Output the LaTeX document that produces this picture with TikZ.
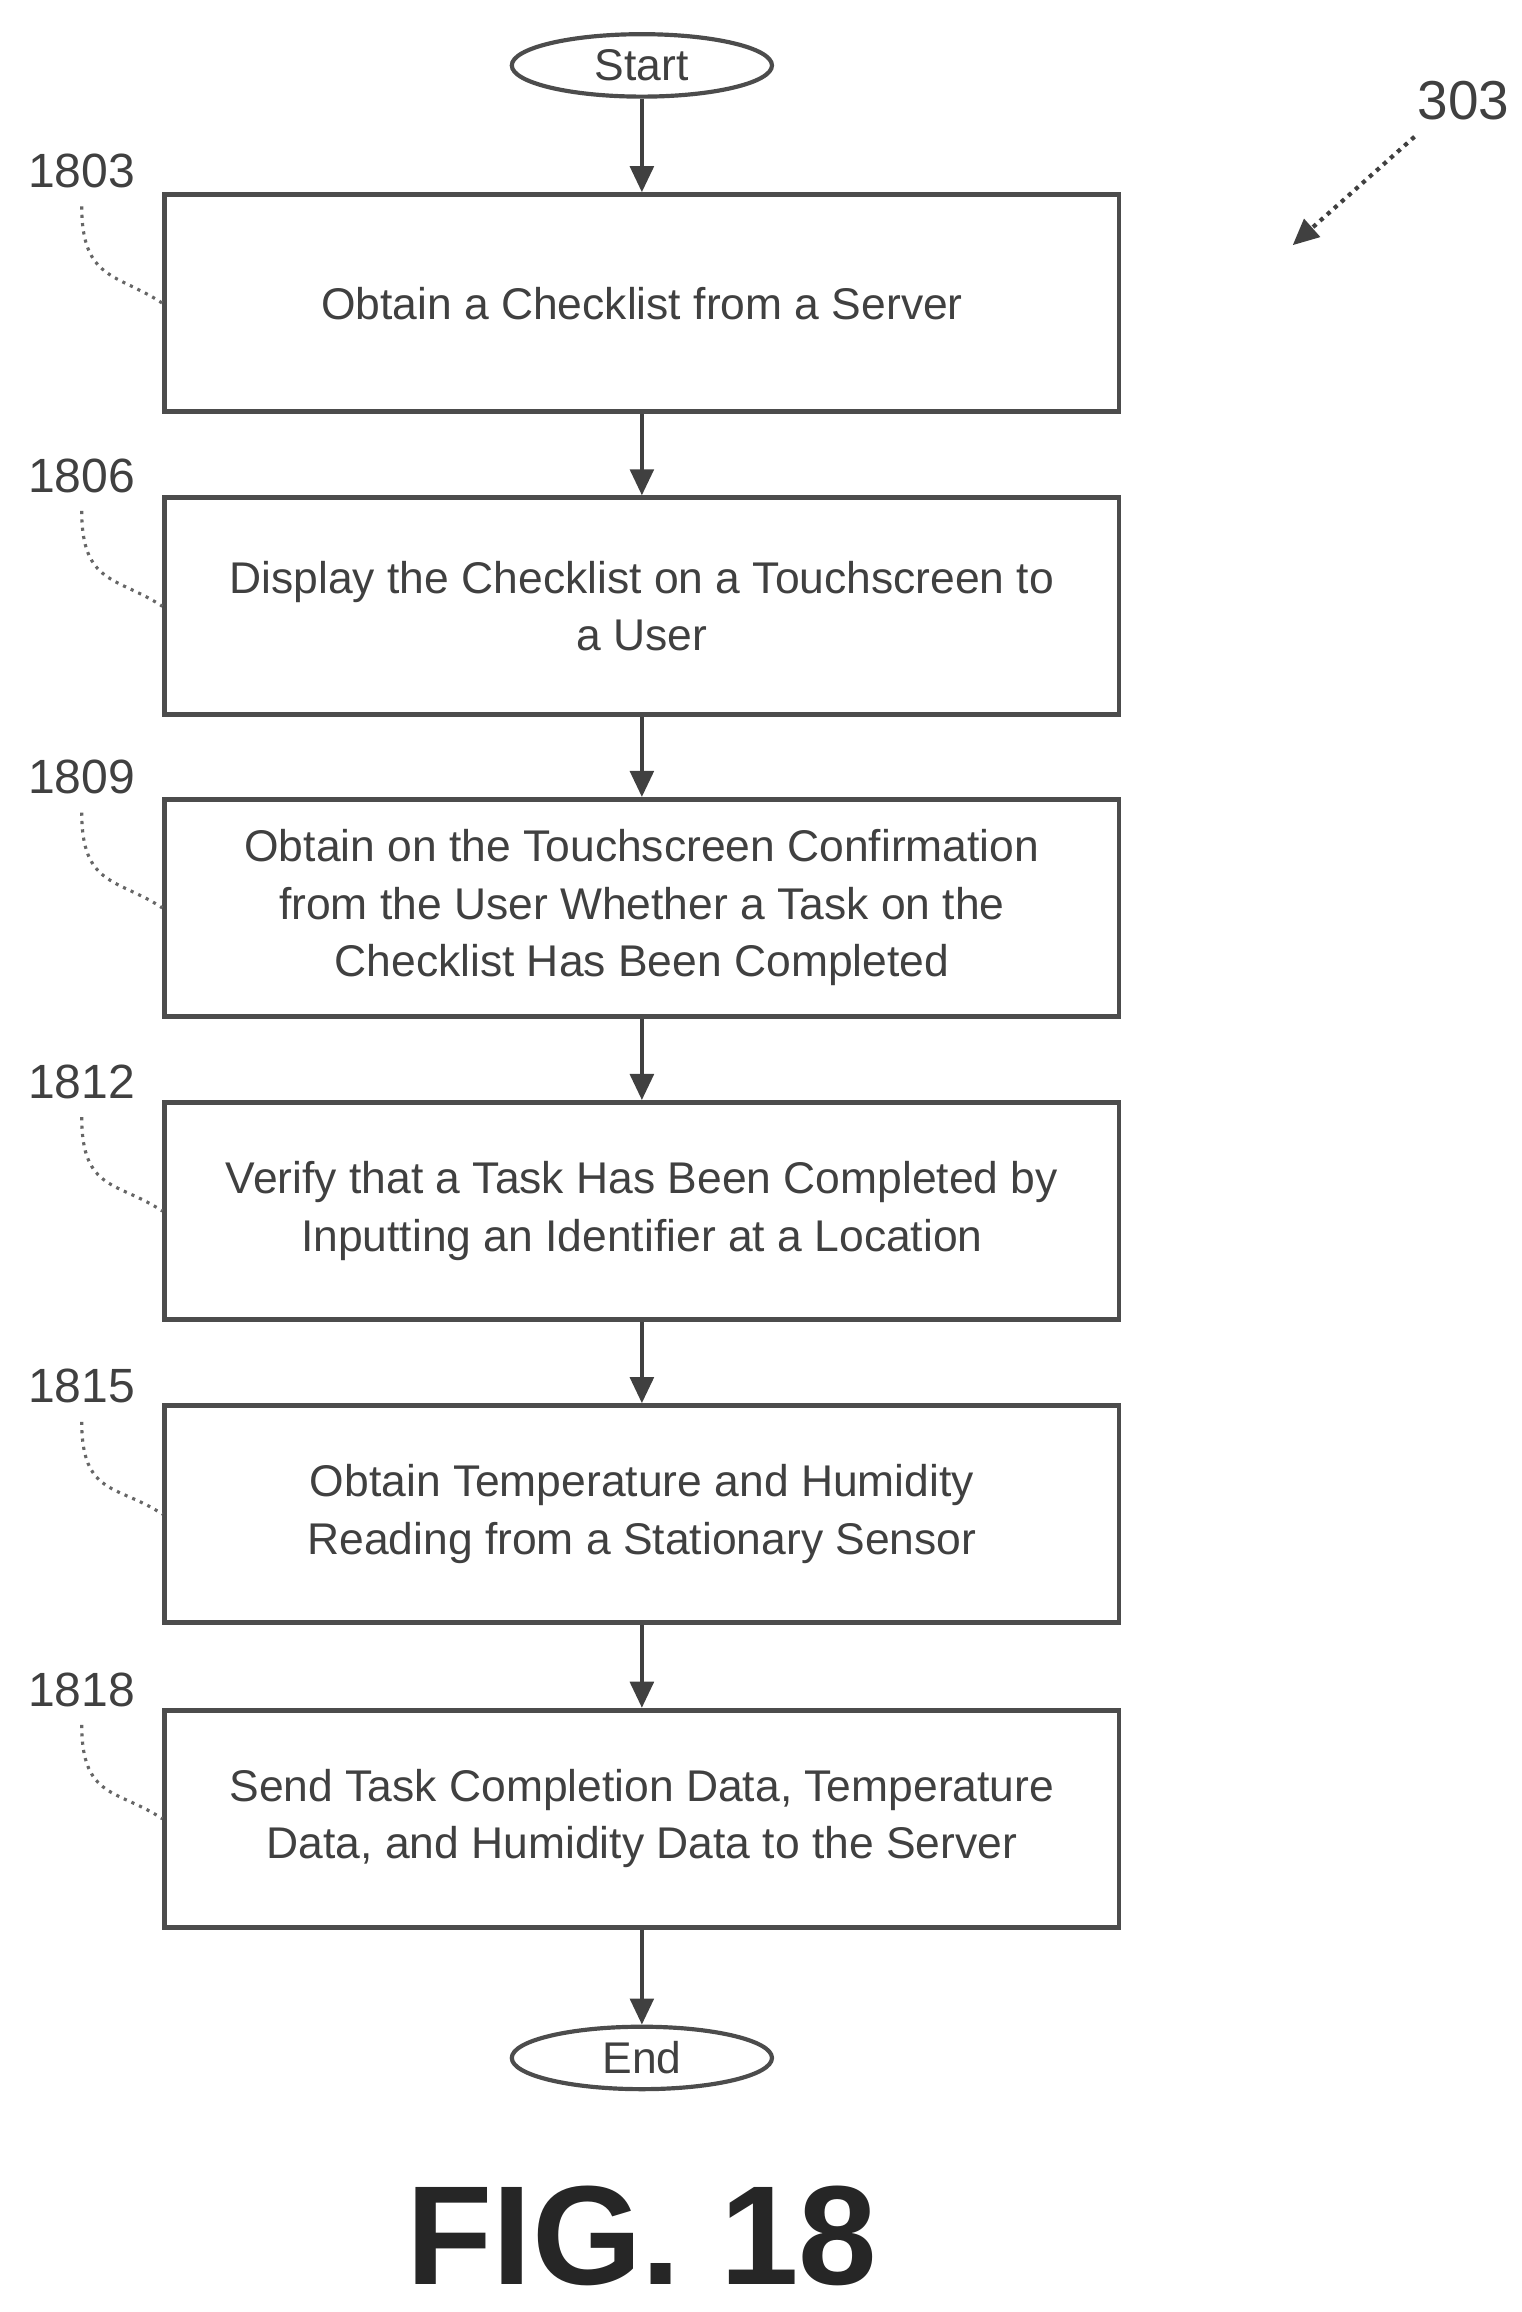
\documentclass[tikz,border=0pt]{standalone}
\usepackage{fontspec}
\setmainfont{Liberation Sans}
\usetikzlibrary{shapes.geometric,arrows.meta}
\begin{document}
\begin{tikzpicture}[x=0.01cm,y=-0.01cm,
  box/.style={draw=black!70,line width=0.9pt,minimum width=6.42cm,minimum height=1.46cm,align=center,font=\fontsize{8.5}{11}\selectfont,text=black!75,inner sep=0pt},
  term/.style={draw=black!70,ellipse,line width=0.8pt,minimum width=1.75cm,minimum height=0.42cm,inner sep=0pt,font=\fontsize{8.5}{10}\selectfont,text=black!75},
  arr/.style={-{Triangle[length=5pt,width=4.5pt]},line width=0.8pt,draw=black!75},
  lbl/.style={font=\fontsize{9.2}{11}\selectfont,text=black!75},
  lead/.style={line width=0.6pt,draw=black!60,densely dotted}]
\useasboundingbox (0,0) rectangle (1024,1556);
\node[term] (s) at (432,44) {Start};
\node[box] (b1) at (432,204) {Obtain a Checklist from a Server};
\node[box] (b2) at (432,408) {Display the Checklist on a Touchscreen to\\a User};
\node[box] (b3) at (432,611) {Obtain on the Touchscreen Confirmation\\from the User Whether a Task on the\\Checklist Has Been Completed};
\node[box] (b4) at (432,815) {Verify that a Task Has Been Completed by\\Inputting an Identifier at a Location};
\node[box] (b5) at (432,1019) {Obtain Temperature and Humidity\\Reading from a Stationary Sensor};
\node[box] (b6) at (432,1224) {Send Task Completion Data, Temperature\\Data, and Humidity Data to the Server};
\node[term] (e) at (432,1385) {End};
\draw[arr] (s) -- (b1);
\draw[arr] (b1) -- (b2);
\draw[arr] (b2) -- (b3);
\draw[arr] (b3) -- (b4);
\draw[arr] (b4) -- (b5);
\draw[arr] (b5) -- (b6);
\draw[arr] (b6) -- (e);
\foreach \n/\t/\y in {b1/1803/115, b2/1806/320, b3/1809/523, b4/1812/728, b5/1815/933, b6/1818/1137}{
  \node[lbl] (l\t) at (55,\y) {\t};
  \draw[lead] (l\t.south) .. controls ([yshift=-0.5cm]l\t.south) and ([xshift=-0.3cm,yshift=0.2cm]\n.west) .. (\n.west);
}
\node[lbl,font=\fontsize{10.5}{12}\selectfont] (n303) at (985,68) {303};
\coordinate (t303) at (870,165);
\draw[arr,densely dotted] (952,92) -- (t303);
\node[font=\bfseries\fontsize{27}{30}\selectfont,text=black!85] (fig) at (432,1505) {FIG. 18};
\end{tikzpicture}
\end{document}
